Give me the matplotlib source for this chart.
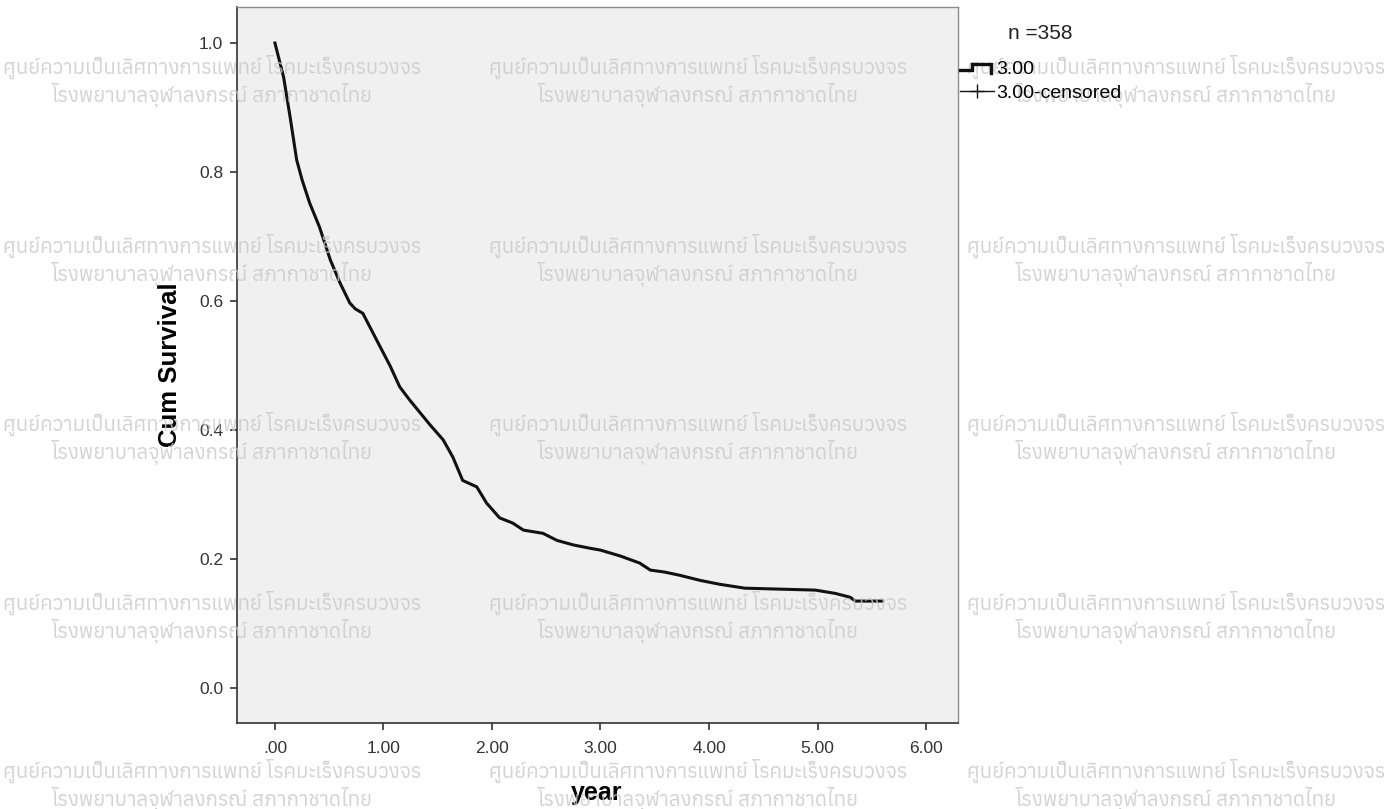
import matplotlib
matplotlib.use("Agg")
import matplotlib.pyplot as plt
from matplotlib import font_manager
from matplotlib.ft2font import FT2Font
from matplotlib.lines import Line2D
from matplotlib.legend_handler import HandlerBase

# survival curve (year, cum survival)
years = [0.00, 0.08, 0.14, 0.20, 0.25, 0.32, 0.41, 0.51, 0.60, 0.69, 0.74, 0.81,
         0.97, 1.06, 1.15, 1.24, 1.43, 1.55, 1.64, 1.73, 1.86, 1.95, 2.07, 2.19,
         2.29, 2.47, 2.60, 2.75, 2.90, 3.00, 3.18, 3.36, 3.46, 3.59, 3.73, 3.92,
         4.10, 4.33, 4.98, 5.16, 5.30, 5.35, 5.60]
surv = [1.000, 0.947, 0.885, 0.819, 0.788, 0.752, 0.715, 0.664, 0.628, 0.597, 0.588, 0.581,
        0.529, 0.500, 0.467, 0.447, 0.408, 0.385, 0.358, 0.322, 0.312, 0.287, 0.264, 0.256,
        0.245, 0.240, 0.229, 0.222, 0.217, 0.214, 0.205, 0.194, 0.183, 0.180, 0.175, 0.167,
        0.161, 0.155, 0.152, 0.147, 0.141, 0.135, 0.135]

x_ticks = [0, 1, 2, 3, 4, 5, 6]
x_labels = [".00", "1.00", "2.00", "3.00", "4.00", "5.00", "6.00"]
y_ticks = [0.0, 0.2, 0.4, 0.6, 0.8, 1.0]

n_label = "n =358"
group = "3.00"
wm_line1 = "ศูนย์ความเป็นเลิศทางการแพทย์ โรคมะเร็งครบวงจร"
wm_line2 = "โรงพยาบาลจุฬาลงกรณ์ สภากาชาดไทย"


def thai_font():
    # pick an installed font that has Thai glyphs, proportional ones first
    cands = []
    for path in font_manager.findSystemFonts():
        try:
            cmap = FT2Font(path).get_charmap()
        except Exception:
            continue
        if ord("ศ") in cmap and ord("ร") in cmap:
            name = font_manager.FontProperties(fname=path).get_name()
            mono = "mono" in name.lower() or "mono" in path.lower()
            bold = "bold" in path.lower()
            cands.append((mono, bold, name))
    cands.sort()
    return cands[0][2] if cands else None


class StepHandler(HandlerBase):
    # little step glyph like the SPSS legend
    def create_artists(self, legend, orig_handle, xdescent, ydescent,
                       width, height, fontsize, trans):
        x0 = -xdescent
        y0 = -ydescent
        xs = [x0, x0 + 0.35 * width, x0 + 0.35 * width, x0 + 0.92 * width, x0 + 0.92 * width]
        ys = [y0 + 0.3 * height, y0 + 0.3 * height, y0 + 0.75 * height,
              y0 + 0.75 * height, y0 + 0.05 * height]
        ln = Line2D(xs, ys, color=orig_handle.get_color(), lw=orig_handle.get_linewidth(),
                    solid_joinstyle="miter")
        ln.set_transform(trans)
        return [ln]


plt.rcParams["font.family"] = ["Liberation Sans", "DejaVu Sans"]

fig = plt.figure(figsize=(13.98, 8.09), dpi=100)
fig.patch.set_facecolor("white")
ax = fig.add_axes([0.1695, 0.1063, 0.5158, 0.885])
ax.set_facecolor("#f0f0f0")

ax.plot(years, surv, color="#111111", lw=2.2, solid_joinstyle="miter")

ax.set_xlim(-0.35, 6.295)
ax.set_ylim(-0.054, 1.0558)
ax.set_xticks(x_ticks)
ax.set_xticklabels(x_labels)
ax.set_yticks(y_ticks)
ax.set_yticklabels([f"{v:.1f}" for v in y_ticks])
ax.tick_params(direction="out", length=5, width=1.2, color="#333333",
               labelsize=12.5, labelcolor="#333333", pad=5)
ax.tick_params(axis="x", pad=8)

for s in ["top", "right"]:
    ax.spines[s].set_color("#8c8c8c")
    ax.spines[s].set_linewidth(1.0)
for s in ["left", "bottom"]:
    ax.spines[s].set_color("#333333")
    ax.spines[s].set_linewidth(1.2)

ax.set_ylabel("Cum Survival", fontsize=18.5, fontweight="bold", labelpad=12)
fig.text(0.427, 0.02, "year", fontsize=18, fontweight="bold", ha="center", va="center")

# legend at right
fig.text(0.721, 0.958, n_label, fontsize=15, ha="left", va="center", color="#222222")
step_h = Line2D([], [], color="#111111", lw=2.4)
cens_h = Line2D([], [], color="#111111", lw=1.0, marker="+", markersize=10,
                markeredgewidth=1.0)
leg = fig.legend([step_h, cens_h], [group, group + "-censored"], loc="upper left",
                 bbox_to_anchor=(0.6867, 0.9256), frameon=False, fontsize=14,
                 handlelength=1.75, handletextpad=0.12, labelspacing=0.35,
                 borderpad=0, borderaxespad=0, handler_map={step_h: StepHandler()})

# watermark grid
tf = thai_font()
wm_fam = [tf, "DejaVu Sans"] if tf else ["DejaVu Sans"]
col_x = [0.152, 0.499, 0.841]
row_y = [0.9, 0.679, 0.459, 0.238, 0.03]
for cy in row_y:
    for cx in col_x:
        fig.text(cx, cy + 0.017, wm_line1, family=wm_fam, fontsize=14.7, color="#c8c8c8",
                 alpha=0.8, ha="center", va="center", zorder=5)
        fig.text(cx, cy - 0.017, wm_line2, family=wm_fam, fontsize=14.7, color="#c8c8c8",
                 alpha=0.8, ha="center", va="center", zorder=5)

fig.savefig("out.png", dpi=100)
